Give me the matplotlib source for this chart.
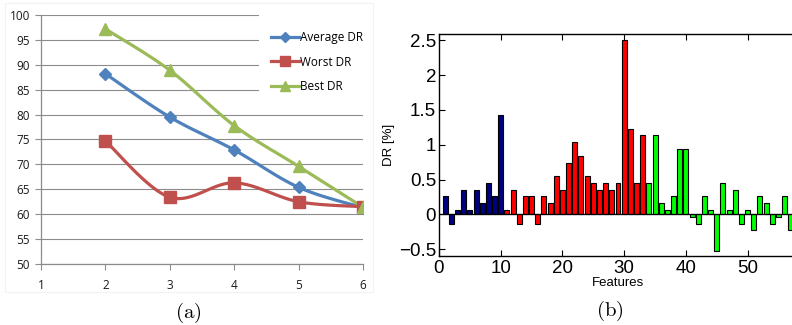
import numpy as np
import matplotlib
matplotlib.use('Agg')
import matplotlib.pyplot as plt
from matplotlib.lines import Line2D
from matplotlib.patches import Rectangle
from matplotlib.ticker import FuncFormatter

# ---------------------------------------------------------------
#                       data
# ---------------------------------------------------------------
n_features = [2, 3, 4, 5, 6]
average_dr = [88.2, 79.5, 72.9, 65.4, 61.3]
worst_dr = [74.7, 63.4, 66.3, 62.5, 61.5]
best_dr = [97.2, 88.9, 77.8, 69.6, 61.4]

features = list(range(1, 58))
dr_change = [0.26, -0.14, 0.06, 0.35, 0.06, 0.35, 0.16, 0.45, 0.26, 1.43,
             0.06, 0.35, -0.14, 0.26, 0.26, -0.14, 0.26, 0.16, 0.55, 0.35,
             0.74, 1.04, 0.84, 0.55, 0.45, 0.35, 0.45, 0.35, 0.45, 2.50,
             1.23, 0.45, 1.14, 0.45, 1.14, 0.16, 0.06, 0.26, 0.94, 0.94,
             -0.04, -0.14, 0.26, 0.06, -0.53, 0.45, 0.06, 0.35, -0.14, 0.06,
             -0.23, 0.26, 0.16, -0.14, -0.04, 0.26, -0.23]
group_end = [10, 33]   # last feature of blue group, last of red group


def smooth(xs, ys, n=25):
    # excel-like smoothed line (bezier through the points)
    pts = np.column_stack([xs, ys]).astype(float)
    p = np.vstack([pts[0], pts, pts[-1]])
    t = np.linspace(0, 1, n)[:, None]
    out = []
    for i in range(1, len(p) - 2):
        p0, p1, p2, p3 = p[i - 1], p[i], p[i + 1], p[i + 2]
        c1 = p1 + (p2 - p0) / 6
        c2 = p2 - (p3 - p1) / 6
        out.append((1 - t)**3 * p1 + 3 * (1 - t)**2 * t * c1
                   + 3 * (1 - t) * t**2 * c2 + t**3 * p2)
    out = np.vstack(out)
    return out[:, 0], out[:, 1]


fig = plt.figure(figsize=(7.92, 3.25), dpi=100)

# ---------------------------------------------------------------
#                       (a) excel style line chart
# ---------------------------------------------------------------
ax1 = fig.add_axes([41/792, 61/325, 322/792, 249/325])
grid_c = '#8c8c8c'
series = [(average_dr, '#4F81BD', 'D', 6, 'Average DR'),
          (worst_dr, '#C0504D', 's', 8, 'Worst DR'),
          (best_dr, '#9BBB59', '^', 8.5, 'Best DR')]
handles = []
for ys, col, mk, ms, lab in series:
    sx, sy = smooth(n_features, ys)
    ax1.plot(sx, sy, color=col, lw=2.3, zorder=3, solid_capstyle='round')
    ax1.plot(n_features, ys, linestyle='none', marker=mk, ms=ms,
             color=col, mec=col, zorder=4)
    handles.append(Line2D([], [], color=col, lw=2.3, marker=mk, ms=ms - 1, mec=col))

ax1.set_xlim(1, 6)
ax1.set_ylim(50, 100)
ax1.set_yticks(np.arange(50, 101, 5))
ax1.set_xticks(range(1, 7))
ax1.yaxis.grid(True, color=grid_c, lw=0.8, zorder=0)
ax1.set_axisbelow(True)
for s in ['top', 'right']:
    ax1.spines[s].set_visible(False)
for s in ['left', 'bottom']:
    ax1.spines[s].set_color(grid_c)
    ax1.spines[s].set_linewidth(0.9)
ax1.tick_params(axis='both', color=grid_c, length=4, width=0.8,
                labelcolor='#1a1a1a')
ax1.tick_params(axis='y', pad=4)
ax1.tick_params(axis='x', pad=7)
for lbl in ax1.get_xticklabels() + ax1.get_yticklabels():
    lbl.set_family('Open Sans')
    lbl.set_fontsize(8.5)

# white legend area hiding the gridlines
ax1.add_patch(Rectangle((0.677, 0.6466), 0.33, 0.38, transform=ax1.transAxes,
                        facecolor='white', edgecolor='none', clip_on=False,
                        zorder=1.5))
leg = ax1.legend(handles, [s[4] for s in series], loc='upper left',
                 bbox_to_anchor=(0.6957, 0.958), frameon=False, borderpad=0,
                 handlelength=2.4, handletextpad=0.1, labelspacing=0.95,
                 prop={'family': 'Open Sans', 'size': 8.5})
leg.set_zorder(5)

# faint chart border
fig.add_artist(Rectangle((5/792, 33/325), 368/792, 289/325,
                         transform=fig.transFigure, facecolor='none',
                         edgecolor='#f2f2f2', lw=0.8))

# ---------------------------------------------------------------
#                       (b) bar chart
# ---------------------------------------------------------------
ax2 = fig.add_axes([439/792, 69/325, 358/792, 222.5/325])
colors = []
for f in features:
    if f <= group_end[0]:
        colors.append('#000080')
    elif f <= group_end[1]:
        colors.append('#ff0000')
    else:
        colors.append('#00ff00')
ax2.bar(features, dr_change, width=0.8, color=colors, edgecolor='black',
        linewidth=0.8, zorder=2)
ax2.axhline(0, color='black', lw=0.9, zorder=3)
ax2.set_xlim(0, 58)
ax2.set_ylim(-0.6, 2.6)
ax2.set_xticks(range(0, 60, 10))
ax2.set_yticks([-0.5, 0, 0.5, 1, 1.5, 2, 2.5])
ax2.yaxis.set_major_formatter(FuncFormatter(lambda v, p: ('%g' % v).replace('-', '\u2212')))
ax2.tick_params(direction='in', top=True, right=False, length=4, width=0.8,
                labelsize=13.5)
ax2.tick_params(axis='y', pad=2)
ax2.tick_params(axis='x', pad=3)
for lbl in ax2.get_xticklabels() + ax2.get_yticklabels():
    lbl.set_family('Liberation Sans')
ax2.set_xlabel('Features', family='Liberation Sans', fontsize=9.5, labelpad=0)
ax2.set_ylabel('DR [%]', family='Liberation Sans', fontsize=9.5, labelpad=3)
for s in ax2.spines.values():
    s.set_linewidth(1.0)

# ---------------------------------------------------------------
#                       captions
# ---------------------------------------------------------------
plt.rcParams['mathtext.fontset'] = 'cm'
fig.text(188/792, 1 - 313/325, r'$\mathrm{(a)}$', ha='center', va='center', fontsize=15)
fig.text(610/792, 1 - 311/325, r'$\mathrm{(b)}$', ha='center', va='center', fontsize=15)

fig.savefig('out.png', dpi=100)
